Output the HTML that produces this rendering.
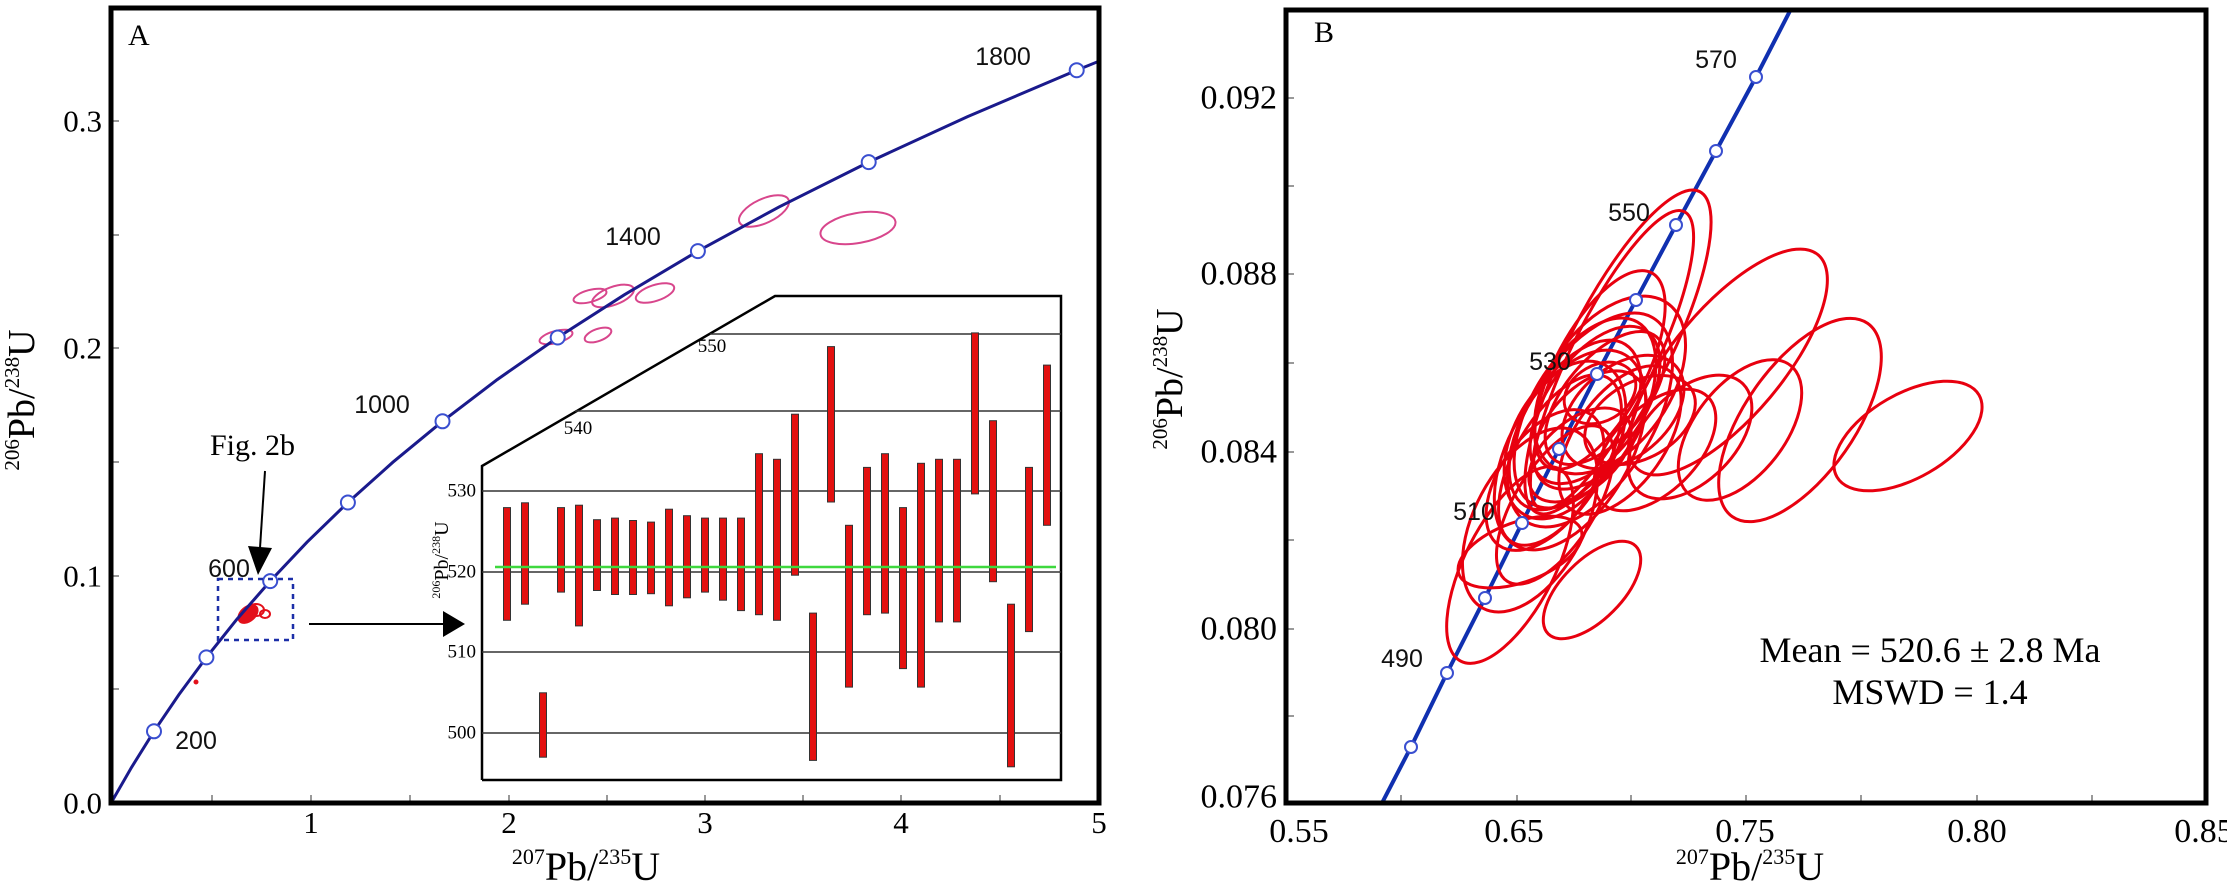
<!DOCTYPE html>
<html><head><meta charset="utf-8"><style>
html,body{margin:0;padding:0;background:#fff;}
svg{display:block;}
.s{font-family:"Liberation Serif",serif;}
.n{font-family:"Liberation Sans",sans-serif;}
</style></head><body>
<svg width="2227" height="885" viewBox="0 0 2227 885" xmlns="http://www.w3.org/2000/svg">
<defs>
<clipPath id="ca"><rect x="111" y="8" width="988" height="795"/></clipPath>
<clipPath id="cb"><rect x="1286" y="10" width="920" height="793"/></clipPath>
</defs>

<g class="s" font-size="31" fill="#000">
<text x="102" y="803" text-anchor="end" dominant-baseline="central">0.0</text>
<text x="102" y="576" text-anchor="end" dominant-baseline="central">0.1</text>
<text x="102" y="348" text-anchor="end" dominant-baseline="central">0.2</text>
<text x="102" y="121" text-anchor="end" dominant-baseline="central">0.3</text>
<text x="311" y="833" text-anchor="middle">1</text>
<text x="509" y="833" text-anchor="middle">2</text>
<text x="705" y="833" text-anchor="middle">3</text>
<text x="901" y="833" text-anchor="middle">4</text>
<text x="1099" y="833" text-anchor="middle">5</text>
</g>
<text class="s" x="586" y="880" text-anchor="middle" font-size="40"><tspan font-size="22" dy="-16">207</tspan><tspan dy="16">Pb/</tspan><tspan font-size="22" dy="-16">235</tspan><tspan dy="16">U</tspan></text>
<text class="s" transform="translate(34,400) rotate(-90)" text-anchor="middle" font-size="38"><tspan font-size="21" dy="-15">206</tspan><tspan dy="15">Pb/</tspan><tspan font-size="21" dy="-15">238</tspan><tspan dy="15">U</tspan></text>

<g stroke="#777" stroke-width="1.5">
<line x1="111" y1="689" x2="119" y2="689"/><line x1="111" y1="576" x2="119" y2="576"/>
<line x1="111" y1="462" x2="119" y2="462"/><line x1="111" y1="348" x2="119" y2="348"/>
<line x1="111" y1="235" x2="119" y2="235"/><line x1="111" y1="121" x2="119" y2="121"/>
<line x1="212" y1="803" x2="212" y2="795"/><line x1="311" y1="803" x2="311" y2="795"/>
<line x1="410" y1="803" x2="410" y2="795"/><line x1="509" y1="803" x2="509" y2="795"/>
<line x1="607" y1="803" x2="607" y2="795"/><line x1="705" y1="803" x2="705" y2="795"/>
<line x1="803" y1="803" x2="803" y2="795"/><line x1="901" y1="803" x2="901" y2="795"/>
<line x1="1000" y1="803" x2="1000" y2="795"/>
</g>

<text class="s" x="128" y="45" font-size="30">A</text>

<g stroke="#000" fill="none">
<polyline points="482,780 482,466 775,296 1061,296 1061,780 482,780" stroke-width="2.5"/>
<g stroke-width="1.5" stroke="#333">
<line x1="482" y1="733" x2="1061" y2="733"/>
<line x1="482" y1="652" x2="1061" y2="652"/>
<line x1="482" y1="572" x2="1061" y2="572"/>
<line x1="482" y1="491" x2="1061" y2="491"/>
<line x1="575" y1="411" x2="1061" y2="411"/>
<line x1="710" y1="334" x2="1061" y2="334"/>
</g>
</g>
<g class="s" font-size="19" fill="#000">
<text x="476" y="733" text-anchor="end" dominant-baseline="central">500</text>
<text x="476" y="652" text-anchor="end" dominant-baseline="central">510</text>
<text x="476" y="572" text-anchor="end" dominant-baseline="central">520</text>
<text x="476" y="491" text-anchor="end" dominant-baseline="central">530</text>
<text x="578" y="434" text-anchor="middle">540</text>
<text x="712" y="352" text-anchor="middle">550</text>
</g>
<text class="s" transform="translate(448,560) rotate(-90)" text-anchor="middle" font-size="20"><tspan font-size="12" dy="-8">206</tspan><tspan dy="8">Pb/</tspan><tspan font-size="12" dy="-8">238</tspan><tspan dy="8">U</tspan></text>

<g fill="#e3100f" stroke="#333" stroke-width="1">
<rect x="503.5" y="507.6" width="7" height="112.7"/>
<rect x="521.5" y="502.8" width="7" height="101.4"/>
<rect x="539.5" y="692.8" width="7" height="64.4"/>
<rect x="557.5" y="507.6" width="7" height="84.5"/>
<rect x="575.5" y="505.2" width="7" height="120.7"/>
<rect x="593.5" y="519.7" width="7" height="70.8"/>
<rect x="611.5" y="518.1" width="7" height="76.4"/>
<rect x="629.5" y="520.5" width="7" height="74"/>
<rect x="647.5" y="522.1" width="7" height="71.6"/>
<rect x="665.5" y="509.2" width="7" height="96.6"/>
<rect x="683.5" y="515.7" width="7" height="82.1"/>
<rect x="701.5" y="518.1" width="7" height="74"/>
<rect x="719.5" y="518.1" width="7" height="82.1"/>
<rect x="737.5" y="518.1" width="7" height="92.5"/>
<rect x="755.5" y="453.7" width="7" height="161"/>
<rect x="773.5" y="459.3" width="7" height="161"/>
<rect x="791.5" y="414.2" width="7" height="161"/>
<rect x="809.5" y="613.1" width="7" height="147.3"/>
<rect x="827.5" y="346.6" width="7" height="155.4"/>
<rect x="845.5" y="525.3" width="7" height="161.8"/>
<rect x="863.5" y="467.4" width="7" height="147.3"/>
<rect x="881.5" y="453.7" width="7" height="159.4"/>
<rect x="899.5" y="507.6" width="7" height="161"/>
<rect x="917.5" y="463.3" width="7" height="223.8"/>
<rect x="935.5" y="459.3" width="7" height="162.6"/>
<rect x="953.5" y="459.3" width="7" height="162.6"/>
<rect x="971.5" y="332.9" width="7" height="161"/>
<rect x="989.5" y="420.7" width="7" height="161"/>
<rect x="1007.5" y="604.2" width="7" height="162.6"/>
<rect x="1025.5" y="467.4" width="7" height="164.2"/>
<rect x="1043.5" y="365.1" width="7" height="160.2"/>
</g>
<line x1="495" y1="567" x2="1056" y2="567" stroke="#3ed83e" stroke-width="2.5"/>

<g fill="none" stroke="#d8468c" stroke-width="2">
<ellipse cx="764" cy="211" rx="27" ry="12" transform="rotate(-25 764 211)"/>
<ellipse cx="858" cy="228" rx="38" ry="15" transform="rotate(-10 858 228)"/>
<ellipse cx="590" cy="296" rx="17" ry="6" transform="rotate(-15 590 296)"/>
<ellipse cx="613" cy="296" rx="22" ry="9" transform="rotate(-20 613 296)"/>
<ellipse cx="655" cy="293" rx="20" ry="8" transform="rotate(-18 655 293)"/>
<ellipse cx="556" cy="337" rx="17" ry="6" transform="rotate(-15 556 337)"/>
<ellipse cx="598" cy="335" rx="14" ry="6" transform="rotate(-20 598 335)"/>
</g>

<g fill="#e3101a" stroke="#e3101a" stroke-width="2">
<ellipse cx="248" cy="614" rx="11" ry="7" transform="rotate(-40 248 614)"/>
<ellipse cx="256" cy="610" rx="8" ry="6" fill="none"/>
<ellipse cx="265" cy="614" rx="5" ry="4" fill="none"/>
<circle cx="196" cy="682" r="1.5"/>
</g>

<g clip-path="url(#ca)">
<polyline fill="none" stroke="#1a1a8c" stroke-width="3" points="111,803 131.5,767.4 154,731.3 178.9,694.6 206.4,657.4 236.7,619.5 270.2,581.1 307.1,542.1 347.9,502.5 392.9,462.2 442.5,421.3 497.2,379.6 557.7,337.5 624.3,294.8 697.9,251.1 779.1,206.9 868.7,162.1 967.6,116.6 1076.7,70.2 1134.6,46.8"/>
<g fill="#fff" stroke="#3a4fd0" stroke-width="2">
<circle cx="154" cy="731.3" r="7"/><circle cx="206.4" cy="657.4" r="7"/>
<circle cx="270.2" cy="581.1" r="7"/><circle cx="347.9" cy="502.5" r="7"/>
<circle cx="442.5" cy="421.3" r="7"/><circle cx="557.7" cy="337.5" r="7"/>
<circle cx="697.9" cy="251.1" r="7"/><circle cx="868.7" cy="162.1" r="7"/>
<circle cx="1076.7" cy="70.2" r="7"/>
</g>
</g>
<g class="n" font-size="25" fill="#111" text-anchor="middle" dominant-baseline="central">
<text x="196" y="741">200</text>
<text x="229" y="569">600</text>
<text x="382" y="405">1000</text>
<text x="633" y="237">1400</text>
<text x="1003" y="57">1800</text>
</g>

<rect x="218" y="579" width="75" height="61" fill="none" stroke="#1c2fa8" stroke-width="2.5" stroke-dasharray="5,5"/>
<text class="s" x="210" y="455" font-size="30">Fig. 2b</text>
<line x1="265" y1="471" x2="260" y2="548" stroke="#000" stroke-width="2"/>
<polygon points="248,546 272,548 258,575" fill="#000"/>
<line x1="309" y1="624" x2="445" y2="624" stroke="#000" stroke-width="2"/>
<polygon points="443,611 443,637 465,624" fill="#000"/>

<rect x="111" y="8" width="988" height="795" fill="none" stroke="#000" stroke-width="5"/>

<g class="s" font-size="34" fill="#000">
<text x="1277" y="98" text-anchor="end" dominant-baseline="central">0.092</text>
<text x="1277" y="274" text-anchor="end" dominant-baseline="central">0.088</text>
<text x="1277" y="452" text-anchor="end" dominant-baseline="central">0.084</text>
<text x="1277" y="629" text-anchor="end" dominant-baseline="central">0.080</text>
<text x="1277" y="797" text-anchor="end" dominant-baseline="central">0.076</text>
<text x="1299" y="842" text-anchor="middle">0.55</text>
<text x="1514" y="842" text-anchor="middle">0.65</text>
<text x="1745" y="842" text-anchor="middle">0.75</text>
<text x="1977" y="842" text-anchor="middle">0.80</text>
<text x="2204" y="842" text-anchor="middle">0.85</text>
</g>
<text class="s" x="1750" y="880" text-anchor="middle" font-size="40"><tspan font-size="22" dy="-16">207</tspan><tspan dy="16">Pb/</tspan><tspan font-size="22" dy="-16">235</tspan><tspan dy="16">U</tspan></text>
<text class="s" transform="translate(1182,379) rotate(-90)" text-anchor="middle" font-size="38"><tspan font-size="21" dy="-15">206</tspan><tspan dy="15">Pb/</tspan><tspan font-size="21" dy="-15">238</tspan><tspan dy="15">U</tspan></text>

<g stroke="#777" stroke-width="1.5">
<line x1="1286" y1="98" x2="1294" y2="98"/><line x1="1286" y1="186" x2="1294" y2="186"/>
<line x1="1286" y1="274" x2="1294" y2="274"/><line x1="1286" y1="363" x2="1294" y2="363"/>
<line x1="1286" y1="452" x2="1294" y2="452"/><line x1="1286" y1="540" x2="1294" y2="540"/>
<line x1="1286" y1="629" x2="1294" y2="629"/><line x1="1286" y1="716" x2="1294" y2="716"/>
<line x1="1401" y1="803" x2="1401" y2="795"/><line x1="1517" y1="803" x2="1517" y2="795"/>
<line x1="1631" y1="803" x2="1631" y2="795"/><line x1="1746" y1="803" x2="1746" y2="795"/>
<line x1="1861" y1="803" x2="1861" y2="795"/><line x1="1977" y1="803" x2="1977" y2="795"/>
<line x1="2092" y1="803" x2="2092" y2="795"/>
</g>

<text class="s" x="1314" y="42" font-size="30">B</text>

<g clip-path="url(#cb)">
<polyline fill="none" stroke="#1030b0" stroke-width="4" points="1382,803 1411,747 1447,673 1485,598 1522,523 1559,449 1597,374 1636,300 1676,225 1716,151 1756,77 1793,5"/>
<g fill="none" stroke="#e8000f" stroke-width="3">
<ellipse cx="1618" cy="352" rx="180" ry="50" transform="rotate(-63 1618 352)"/>
<ellipse cx="1612" cy="360" rx="165" ry="42" transform="rotate(-64 1612 360)"/>
<ellipse cx="1728" cy="362" rx="140" ry="55" transform="rotate(-50 1728 362)"/>
<ellipse cx="1908" cy="436" rx="82" ry="42" transform="rotate(-30 1908 436)"/>
<ellipse cx="1800" cy="420" rx="118" ry="55" transform="rotate(-55 1800 420)"/>
<ellipse cx="1740" cy="430" rx="82" ry="45" transform="rotate(-52 1740 430)"/>
<ellipse cx="1690" cy="437" rx="75" ry="45" transform="rotate(-45 1690 437)"/>
<ellipse cx="1592" cy="590" rx="62" ry="30" transform="rotate(-45 1592 590)"/>
<ellipse cx="1510" cy="565" rx="108" ry="45" transform="rotate(-63 1510 565)"/>
<ellipse cx="1520" cy="552" rx="65" ry="30" transform="rotate(-20 1520 552)"/>
<ellipse cx="1623" cy="412" rx="70" ry="45" transform="rotate(-40 1623 412)"/>
<ellipse cx="1600" cy="393" rx="38" ry="28" transform="rotate(-30 1600 393)"/>
<ellipse cx="1585" cy="413" rx="105" ry="55" transform="rotate(-60 1585 413)"/>
<ellipse cx="1575" cy="425" rx="95" ry="50" transform="rotate(-58 1575 425)"/>
<ellipse cx="1595" cy="405" rx="90" ry="48" transform="rotate(-55 1595 405)"/>
<ellipse cx="1565" cy="440" rx="85" ry="52" transform="rotate(-62 1565 440)"/>
<ellipse cx="1605" cy="398" rx="80" ry="40" transform="rotate(-50 1605 398)"/>
<ellipse cx="1560" cy="460" rx="95" ry="45" transform="rotate(-60 1560 460)"/>
<ellipse cx="1590" cy="430" rx="70" ry="42" transform="rotate(-48 1590 430)"/>
<ellipse cx="1620" cy="440" rx="85" ry="45" transform="rotate(-55 1620 440)"/>
<ellipse cx="1545" cy="480" rx="80" ry="45" transform="rotate(-55 1545 480)"/>
<ellipse cx="1580" cy="455" rx="60" ry="35" transform="rotate(-40 1580 455)"/>
<ellipse cx="1555" cy="505" rx="90" ry="40" transform="rotate(-58 1555 505)"/>
<ellipse cx="1640" cy="420" rx="60" ry="38" transform="rotate(-30 1640 420)"/>
<ellipse cx="1600" cy="370" rx="110" ry="45" transform="rotate(-62 1600 370)"/>
<ellipse cx="1570" cy="450" rx="110" ry="60" transform="rotate(-60 1570 450)"/>
<ellipse cx="1590" cy="420" rx="120" ry="62" transform="rotate(-58 1590 420)"/>
<ellipse cx="1530" cy="520" rx="100" ry="55" transform="rotate(-62 1530 520)"/>
<ellipse cx="1610" cy="385" rx="100" ry="60" transform="rotate(-55 1610 385)"/>
<ellipse cx="1655" cy="450" rx="75" ry="42" transform="rotate(-45 1655 450)"/>
</g>
<g fill="#fff" stroke="#3a4fd0" stroke-width="2">
<circle cx="1411" cy="747" r="6"/><circle cx="1447" cy="673" r="6"/>
<circle cx="1485" cy="598" r="6"/><circle cx="1522" cy="523" r="6"/>
<circle cx="1559" cy="449" r="6"/><circle cx="1597" cy="374" r="6"/>
<circle cx="1636" cy="300" r="6"/><circle cx="1676" cy="225" r="6"/>
<circle cx="1716" cy="151" r="6"/><circle cx="1756" cy="77" r="6"/>
</g>
</g>
<g class="n" font-size="25" fill="#111" text-anchor="middle" dominant-baseline="central">
<text x="1402" y="659">490</text>
<text x="1474" y="512">510</text>
<text x="1550" y="362">530</text>
<text x="1629" y="213">550</text>
<text x="1716" y="60">570</text>
</g>

<g class="s" font-size="36" fill="#000" text-anchor="middle" dominant-baseline="central">
<text x="1930" y="650">Mean = 520.6 ± 2.8 Ma</text>
<text x="1930" y="692">MSWD = 1.4</text>
</g>

<rect x="1286" y="10" width="920" height="793" fill="none" stroke="#000" stroke-width="5"/>
</svg>
</body></html>
